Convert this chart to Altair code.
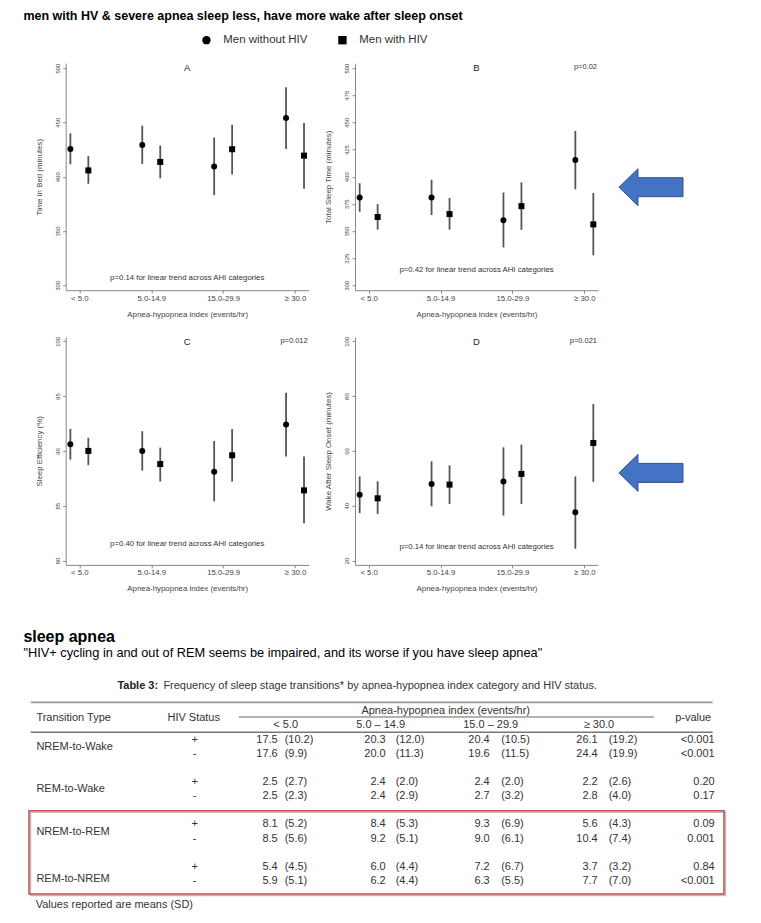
import altair as alt
import pandas as pd

FONT = "Liberation Sans"

# ---------------- figure data ----------------
ahi_labels = ["< 5.0", "5.0-14.9", "15.0-29.9", "≥ 30.0"]
groups = ["Men without HIV", "Men with HIV"]

tib_without = [425.6, 429.3, 409.3, 454.0]
tib_without_lo = [411.4, 411.8, 383.0, 425.6]
tib_without_hi = [440.0, 447.0, 436.0, 482.4]
tib_with = [405.8, 413.6, 425.3, 419.4]
tib_with_lo = [393.5, 398.5, 402.0, 389.0]
tib_with_hi = [419.0, 428.7, 447.8, 449.4]

tst_without = [380.8, 380.8, 360.0, 415.4]
tst_without_lo = [367.7, 364.7, 334.9, 388.4]
tst_without_hi = [394.0, 397.2, 385.4, 442.2]
tst_with = [362.9, 365.6, 372.9, 356.1]
tst_with_lo = [351.3, 351.3, 351.0, 327.6]
tst_with_hi = [374.7, 380.4, 394.8, 384.9]

se_without = [90.6, 90.0, 88.1, 92.4]
se_without_lo = [89.2, 88.2, 85.4, 89.5]
se_without_hi = [92.0, 91.8, 90.9, 95.3]
se_with = [90.0, 88.8, 89.6, 86.4]
se_with_lo = [88.7, 87.2, 87.2, 83.4]
se_with_hi = [91.2, 90.3, 92.0, 89.5]

waso_without = [44.0, 47.9, 48.8, 37.6]
waso_without_lo = [37.3, 39.8, 36.4, 24.3]
waso_without_hi = [50.7, 56.2, 61.3, 50.7]
waso_with = [42.7, 47.7, 51.6, 62.9]
waso_with_lo = [37.0, 40.6, 40.6, 48.7]
waso_with_hi = [48.9, 54.7, 62.3, 77.1]

# ---------------- table data ----------------
transition_types = ["NREM-to-Wake", "REM-to-Wake", "NREM-to-REM", "REM-to-NREM"]
hiv_status = ["+", "-"]
table_ahi_labels = ["< 5.0", "5.0 – 14.9", "15.0 – 29.9", "≥ 30.0"]
mean_hiv_pos = [[17.5, 20.3, 20.4, 26.1], [2.5, 2.4, 2.4, 2.2], [8.1, 8.4, 9.3, 5.6], [5.4, 6.0, 7.2, 3.7]]
sd_hiv_pos = [[10.2, 12.0, 10.5, 19.2], [2.7, 2.0, 2.0, 2.6], [5.2, 5.3, 6.9, 4.3], [4.5, 4.4, 6.7, 3.2]]
mean_hiv_neg = [[17.6, 20.0, 19.6, 24.4], [2.5, 2.4, 2.7, 2.8], [8.5, 9.2, 9.0, 10.4], [5.9, 6.2, 6.3, 7.7]]
sd_hiv_neg = [[9.9, 11.3, 11.5, 19.9], [2.3, 2.9, 3.2, 4.0], [5.6, 5.1, 6.1, 7.4], [5.1, 4.4, 5.5, 7.0]]
p_hiv_pos = ["<0.001", "0.20", "0.09", "0.84"]
p_hiv_neg = ["<0.001", "0.17", "0.001", "<0.001"]

# ---------------- text ----------------
TITLE = "men with HV & severe apnea sleep less, have more wake after sleep onset"

# ---------------- layout (pixels) ----------------
LEG_X, LEG_Y = 135, 24.9
ARROW = "M -1 0 L -0.406 -0.578 L -0.406 -0.297 L 1 -0.297 L 1 0.297 L -0.406 0.297 L -0.406 0.578 Z"
one = pd.DataFrame({"k": [0]})


def panel_frame(wo, wo_lo, wo_hi, wi, wi_lo, wi_hi):
    rows = []
    for i, lab in enumerate(ahi_labels):
        for g, m, lo, hi in ((groups[0], wo[i], wo_lo[i], wo_hi[i]),
                             (groups[1], wi[i], wi_lo[i], wi_hi[i])):
            rows.append({"ahi": i + 1, "ahi_label": lab, "group": g,
                         "mean": m, "lo": lo, "hi": hi})
    return pd.DataFrame(rows)


label_expr = "[" + ", ".join("'" + s + "'" for s in ahi_labels) + "][datum.value - 1]"

shape_legend = alt.Legend(
    title=None, orient="none", legendX=LEG_X, legendY=LEG_Y, direction="horizontal",
    symbolSize=70, symbolFillColor="black", symbolStrokeColor="black",
    labelFont=FONT, labelFontSize=11.5, labelColor="#333", labelOffset=11,
    columnPadding=27, padding=0)


def panel(frame, ytitle, ydomain, yticks, letter, w, h, p_top=None,
          trend="", trend_y=0, arrow_y=None, left_pad=None):
    base = alt.Chart(frame).transform_calculate(
        pos="datum.ahi + (datum.group == 'Men with HIV' ? 0.125 : -0.125)")
    xs = alt.Scale(domain=[0.81, 4.19], nice=False, zero=False)
    ys = alt.Scale(domain=ydomain, nice=False, zero=False)
    xaxis = alt.Axis(values=[1, 2, 3, 4], labelExpr=label_expr,
                     title="Apnea-hypopnea index (events/hr)", tickSize=3,
                     labelPadding=1, titlePadding=8, labelFlush=False, grid=False,
                     labelFontSize=7.8)
    yaxis = alt.Axis(values=yticks, format="d", labelAngle=270, labelAlign="center",
                     labelBaseline="bottom", tickSize=3, labelPadding=2.5,
                     titlePadding=10.5, grid=False, title=ytitle, labelFlush=False,
                     labelOverlap=False, labelFontSize=6)
    bars = base.mark_rule(color="#555", strokeWidth=1.8).encode(
        x=alt.X("pos:Q", scale=xs, axis=xaxis),
        y=alt.Y("lo:Q", scale=ys, axis=yaxis),
        y2="hi:Q")
    pts = base.mark_point(filled=True, size=36, opacity=1, color="black").encode(
        x=alt.X("pos:Q", scale=xs, axis=xaxis),
        y=alt.Y("mean:Q", scale=ys, axis=yaxis),
        shape=alt.Shape("group:N", scale=alt.Scale(domain=groups, range=["circle", "square"]),
                        legend=shape_legend))
    layers = [bars, pts]
    layers.append(alt.Chart(one).mark_text(
        text=letter, font=FONT, fontSize=9.5, color="#222", align="center",
        baseline="middle").encode(x=alt.value(w / 2), y=alt.value(5)))
    if p_top:
        layers.append(alt.Chart(one).mark_text(
            text=p_top, font=FONT, fontSize=7.5, color="#333", align="right",
            baseline="middle").encode(x=alt.value(w - 1), y=alt.value(4)))
    layers.append(alt.Chart(one).mark_text(
        text=trend, font=FONT, fontSize=7.8, color="#333", align="center",
        baseline="middle").encode(x=alt.value(w / 2), y=alt.value(trend_y)))
    if arrow_y is not None:
        layers.append(alt.Chart(one).mark_point(
            shape=ARROW, size=4096, filled=True, color="#4472C4", stroke="#2F528F",
            strokeWidth=1, opacity=1).encode(x=alt.value(296), y=alt.value(arrow_y)))
    if left_pad is not None:
        layers.append(alt.Chart(one).mark_rule(opacity=0).encode(
            x=alt.value(left_pad), x2=alt.value(left_pad + 1), y=alt.value(h / 2)))
    return alt.layer(*layers).properties(width=w, height=h)


W = 243
pA = panel(panel_frame(tib_without, tib_without_lo, tib_without_hi, tib_with, tib_with_lo, tib_with_hi),
           "Time in Bed (minutes)", [295.5, 504.5], [300, 350, 400, 450, 500], "A", W, 227,
           trend="p=0.14 for linear trend across AHI categories", trend_y=215, left_pad=-42.3)
pB = panel(panel_frame(tst_without, tst_without_lo, tst_without_hi, tst_with, tst_with_lo, tst_with_hi),
           "Total Sleep Time (minutes)", [295.5, 504.5], [300, 325, 350, 375, 400, 425, 450, 475, 500],
           "B", W, 227, p_top="p=0.02",
           trend="p=0.42 for linear trend across AHI categories", trend_y=206.5, arrow_y=124,
           left_pad=-31)
pC = panel(panel_frame(se_without, se_without_lo, se_without_hi, se_with, se_with_lo, se_with_hi),
           "Sleep Efficiency (%)", [79.6, 100.4], [80, 85, 90, 95, 100], "C", W, 228,
           p_top="p=0.012", trend="p=0.40 for linear trend across AHI categories", trend_y=207.5,
           left_pad=-42.3)
pD = panel(panel_frame(waso_without, waso_without_lo, waso_without_hi, waso_with, waso_with_lo, waso_with_hi),
           "Wake After Sleep Onset (minutes)", [18.4, 101.6], [20, 40, 60, 80, 100], "D", W, 228,
           p_top="p=0.021", trend="p=0.14 for linear trend across AHI categories", trend_y=210,
           arrow_y=136, left_pad=-31)

panels = alt.vconcat(alt.hconcat(pA, pB, spacing=15.3), alt.hconcat(pC, pD, spacing=15.3), spacing=17.7)

# ---------------- title row ----------------
title_row = alt.Chart(one).mark_text(
    text=TITLE, font=FONT, fontSize=12.5, fontWeight="bold", color="black",
    align="left", baseline="middle").encode(x=alt.value(-42.3), y=alt.value(6)).properties(
    width=10, height=12)

# ---------------- table (x measured from the left edge of panel A's plot) ----------------
col_mean_x = [212, 320, 424, 532]
col_sd_x = [219, 330, 435.5, 543]
col_hdr_x = [220, 315, 425, 533.3]
row_pos_y = [119.3, 161.7, 203.3, 246.7]
row_neg_y = [133.5, 175.5, 218.7, 260.0]
row_lab_y = [126.0, 168.3, 211.0, 258.3]
LABEL_X, STATUS_X, P_X = -29.3, 129, 649

right_rows, left_rows, center_rows = [], [], []
for i, t in enumerate(transition_types):
    left_rows.append({"text": t, "px": LABEL_X, "py": row_lab_y[i]})
    for s, ys, means, sds, ps in (("+", row_pos_y[i], mean_hiv_pos, sd_hiv_pos, p_hiv_pos),
                                  ("-", row_neg_y[i], mean_hiv_neg, sd_hiv_neg, p_hiv_neg)):
        center_rows.append({"text": s, "px": STATUS_X, "py": ys})
        for j in range(4):
            right_rows.append({"text": f"{means[i][j]:.1f}", "px": col_mean_x[j], "py": ys})
            left_rows.append({"text": f"({sds[i][j]:.1f})", "px": col_sd_x[j], "py": ys})
        right_rows.append({"text": ps[i], "px": P_X, "py": ys})

left_rows.append({"text": "Transition Type", "px": LABEL_X, "py": 97.3})
left_rows.append({"text": "Values reported are means (SD)", "px": -30, "py": 284})
center_rows.append({"text": "HIV Status", "px": 128, "py": 97.3})
center_rows.append({"text": "p-value", "px": 627.5, "py": 97.3})
center_rows.append({"text": "Apnea-hypopnea index (events/hr)", "px": 380, "py": 90})
for j, lab in enumerate(table_ahi_labels):
    center_rows.append({"text": lab, "px": col_hdr_x[j], "py": 104})


def text_layer(rows, align, size=11, weight="normal", color="#333"):
    return alt.Chart(pd.DataFrame(rows)).mark_text(
        align=align, baseline="middle", font=FONT, fontSize=size, fontWeight=weight,
        color=color).encode(
        x=alt.X("px:Q", scale=None, axis=None),
        y=alt.Y("py:Q", scale=None, axis=None),
        text="text:N")


def hline(x1, x2, y, width, color):
    return alt.Chart(one).mark_rule(strokeWidth=width, color=color).encode(
        x=alt.value(x1), x2=alt.value(x2), y=alt.value(y))


table = alt.layer(
    text_layer([{"text": "sleep apnea", "px": -42.3, "py": 16}], "left", 16, "bold", "black"),
    text_layer([{"text": "\"HIV+ cycling in and out of REM seems be impaired, and its worse if you have sleep apnea\"",
                 "px": -42.3, "py": 32}], "left", 12.8, "normal", "black"),
    text_layer([{"text": "Table 3:", "px": 51.7, "py": 65}], "left", 11, "bold", "#222"),
    text_layer([{"text": "Frequency of sleep stage transitions* by apnea-hypopnea index category and HIV status.",
                 "px": 97.7, "py": 65}], "left", 11, "normal", "#333"),
    hline(-35, 647, 81.7, 1.8, "#999"),
    hline(173, 588.3, 96.3, 1, "#666"),
    hline(-35, 647, 111.5, 1.5, "#777"),
    alt.Chart(one).mark_rect(fillOpacity=0, stroke="#bbb", strokeWidth=1.5).encode(
        x=alt.value(-35.2), x2=alt.value(659.8), y=alt.value(191.5), y2=alt.value(274.8)),
    alt.Chart(one).mark_rect(fillOpacity=0, stroke="#c0504d", strokeWidth=1.5).encode(
        x=alt.value(-36.7), x2=alt.value(658.3), y=alt.value(190), y2=alt.value(273.3)),
    text_layer(left_rows, "left"),
    text_layer(right_rows, "right"),
    text_layer(center_rows, "center"),
).properties(width=660, height=292)

body = alt.vconcat(panels, table, spacing=27.5)
chart = alt.vconcat(title_row, body, spacing=39.7).properties(
    padding={"left": 14.7, "top": 1.5, "right": 5, "bottom": 5},
).configure_view(stroke=None).configure_axis(
    domainColor="#888", tickColor="#888", labelColor="#444", titleColor="#444",
    labelFont=FONT, titleFont=FONT, labelFontSize=7, titleFontSize=7.9,
    titleFontWeight="normal", grid=False)

chart.save("out.html", embed_options={"renderer": "svg", "actions": False})
